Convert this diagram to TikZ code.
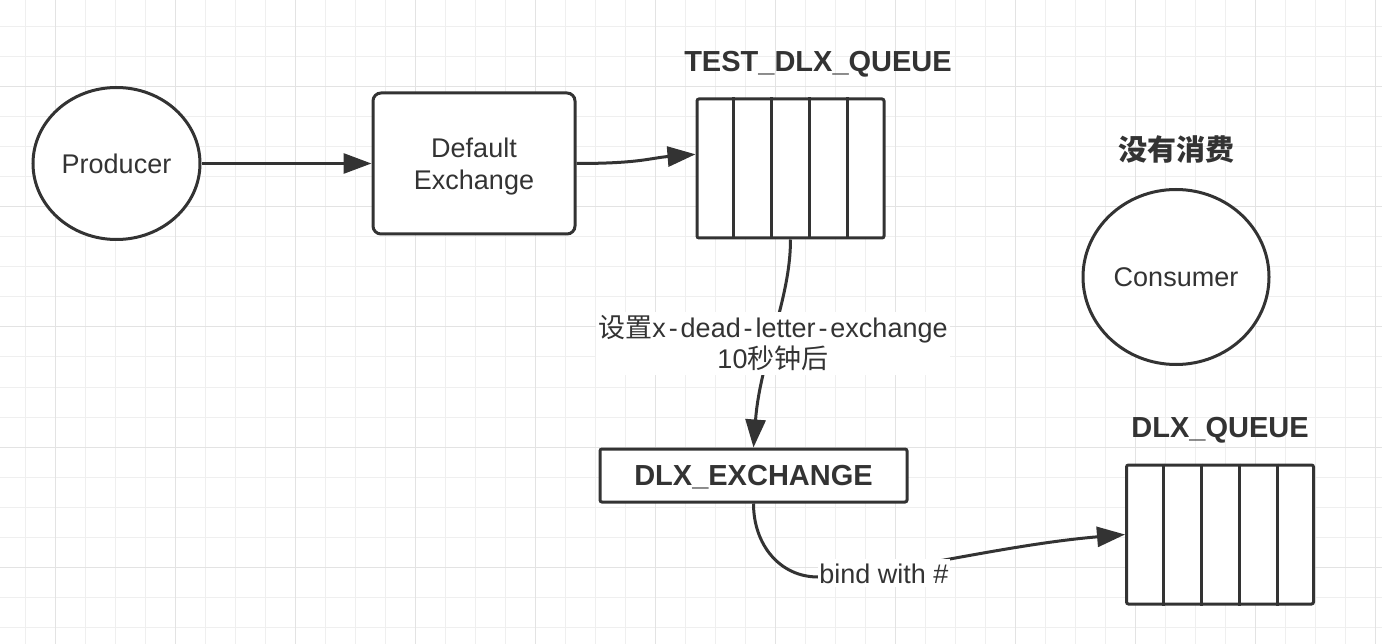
\documentclass[tikz,border=0pt]{standalone}
\usepackage{fontspec}
\setmainfont{Liberation Sans}
\newfontfamily\cjk{Noto Sans CJK SC}
\usetikzlibrary{shapes.geometric,arrows.meta,calc}
\definecolor{ink}{HTML}{333333}
\definecolor{gridminor}{HTML}{EFEFEF}
\definecolor{gridmajor}{HTML}{E3E3E3}
\newcommand\hy{\makebox[0.55em]{-}}
\begin{document}
\begin{tikzpicture}[x=1pt,y=-1pt,
  shp/.style={draw=ink, line width=3pt, fill=white, text=ink, inner sep=0pt},
  ellnode/.style={shp, ellipse, font=\fontsize{27}{32}\selectfont},
  exbox/.style={shp, rectangle, rounded corners=8pt, align=center, text height=53pt, text depth=0pt, font=\fontsize{27}{32}\selectfont},
  queuebox/.style={shp, rectangle, rounded corners=2pt, minimum width=187pt, minimum height=139pt},
  dlxbox/.style={shp, rectangle, rounded corners=2pt, minimum width=307pt, minimum height=53pt, text depth=0pt, font=\fontsize{29}{34}\selectfont\bfseries},
  title/.style={text=ink, inner sep=0pt, anchor=base, font=\fontsize{29}{34}\selectfont\bfseries},
  lblbox/.style={fill=white, text=ink, inner xsep=2pt, inner ysep=4pt, font=\fontsize{27}{31}\selectfont},
  divider/.style={draw=ink, line width=3pt},
  conn/.style={draw=ink, line width=3pt, -{Triangle[length=28pt,width=20pt]}}
]
% background and grid
\fill[white] (0,0) rectangle (1382,644);
\useasboundingbox (0,0) rectangle (1382,644);
\foreach \x in {25,55,...,1375} \draw[gridminor, line width=1pt] (\x,0) -- (\x,644);
\foreach \y in {27,57,...,627} \draw[gridminor, line width=1pt] (0,\y) -- (1382,\y);
\foreach \x in {55,175,...,1375} \draw[gridmajor, line width=1pt] (\x,0) -- (\x,644);
\foreach \y in {87,207,...,567} \draw[gridmajor, line width=1pt] (0,\y) -- (1382,\y);

% nodes
\node[ellnode, minimum width=167pt, minimum height=152pt] (prod) at (116.5,163.5) {Producer};
\node[exbox, minimum width=202pt, minimum height=141pt] (dex) at (474,163.5) {Default\\Exchange};
\node[queuebox] (q1) at (790.5,168.5) {};
\foreach \f in {0.2,0.4,0.6,0.8}
  \draw[divider] ($(q1.north west)!\f!(q1.north east)$) -- ($(q1.south west)!\f!(q1.south east)$);
\node[title] (q1lbl) at (818,72) {TEST\_DLX\_QUEUE};
\node[title] (nocons) at (1176,161) {\cjk\bfseries 没有消费};
\node[ellnode, minimum width=186pt, minimum height=175pt] (cons) at (1176,277) {Consumer};
\node[dlxbox] (dlx) at (753.5,475.5) {DLX\_EXCHANGE};
\node[queuebox] (q2) at (1220,534.5) {};
\foreach \f in {0.2,0.4,0.6,0.8}
  \draw[divider] ($(q2.north west)!\f!(q2.north east)$) -- ($(q2.south west)!\f!(q2.south east)$);
\node[title] (q2lbl) at (1220,437) {DLX\_QUEUE};

% connectors
\coordinate (q1in) at ($(q1.north west)!0.4!(q1.south west)$);
\draw[conn] (prod.east) -- (dex.west);
\draw[conn] (dex.east) .. controls (640,163.5) and (650,158) .. (q1in);
\draw[conn] (q1.south) .. controls (790.5,300) and (760,360) .. (dlx.north);
\draw[conn] (dlx.south) .. controls (753.5,545) and (780,577) .. (818,577)
  .. controls (880,577) and (1000,545) .. (q2.west);

% connector labels
\node[lblbox, align=center, anchor=base] (lbl1) at (773,369)
  {{\cjk 设置}x\hy dead\hy letter\hy exchange\\10{\cjk 秒钟后}};
\node[lblbox, inner xsep=1pt, anchor=base] (lbl2) at (884,583) {bind with \#};
\end{tikzpicture}
\end{document}
